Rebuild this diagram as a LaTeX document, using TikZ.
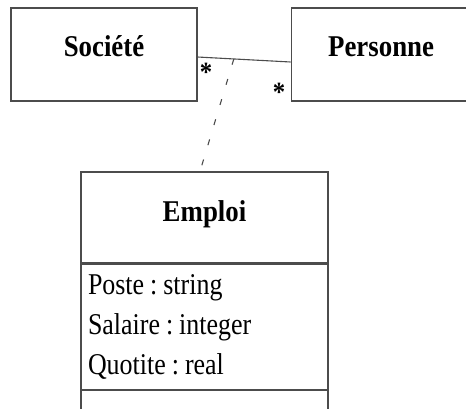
\documentclass[tikz,border=0pt]{standalone}
\usepackage{fontspec}
\setmainfont{Liberation Serif}[Scale=1.16,FakeStretch=0.86,BoldFeatures={FakeStretch=0.89}]
\usetikzlibrary{
	positioning,
	calc,
}
\frenchspacing

\begin{document}
\begin{tikzpicture}[
	x=1pt,y=-1pt,
	line width=1.1pt,black!70,
	text=black,
	font=\fontsize{26}{40}\selectfont,
	classbox/.style={draw,rectangle,inner sep=0pt,minimum height=93pt},
	classname/.style={font=\fontsize{26}{40}\selectfont\bfseries,text height=15pt,text depth=11pt},
	multlabel/.style={inner sep=0pt,font=\fontsize{24}{40}\selectfont\bfseries},
	]
	\useasboundingbox (0,0) rectangle (466,408);

	%% line 1
	\node[classbox,classname,minimum width=186pt] (soc) at (104,54.5) {Société};
	\node[classbox,classname,minimum width=180pt,right=93pt of soc] (pers) {Personne};

	%% line 2
	\node[classbox,classname,text depth=7pt,minimum width=247pt,minimum height=91pt] (emploi) at (204.5,217.5) {Emploi};
	\node[classbox,minimum width=247pt,minimum height=125pt,text width=233pt,align=left,below=0pt of emploi] (attrs)
		{Poste\hspace{6pt}:\hspace{6pt}string\\Salaire\hspace{6pt}:\hspace{6pt}integer\\Quotite\hspace{6pt}:\hspace{6pt}real};
	\node[classbox,minimum width=247pt,minimum height=40pt,below=0pt of attrs] (ops) {};

	%% multiplicities
	\node[multlabel] (socmult) at (206,72) {*};
	\node[multlabel] (persmult) at (279,92) {*};

	%% association and its class
	\draw ([yshift=-2.5pt]soc.east) -- coordinate[pos=0.39] (mid) ([yshift=-7.5pt]pers.west);
	\draw[dash pattern=on 6pt off 15pt] (mid) -- ([xshift=-4.5pt]emploi.north);

\end{tikzpicture}
\end{document}
